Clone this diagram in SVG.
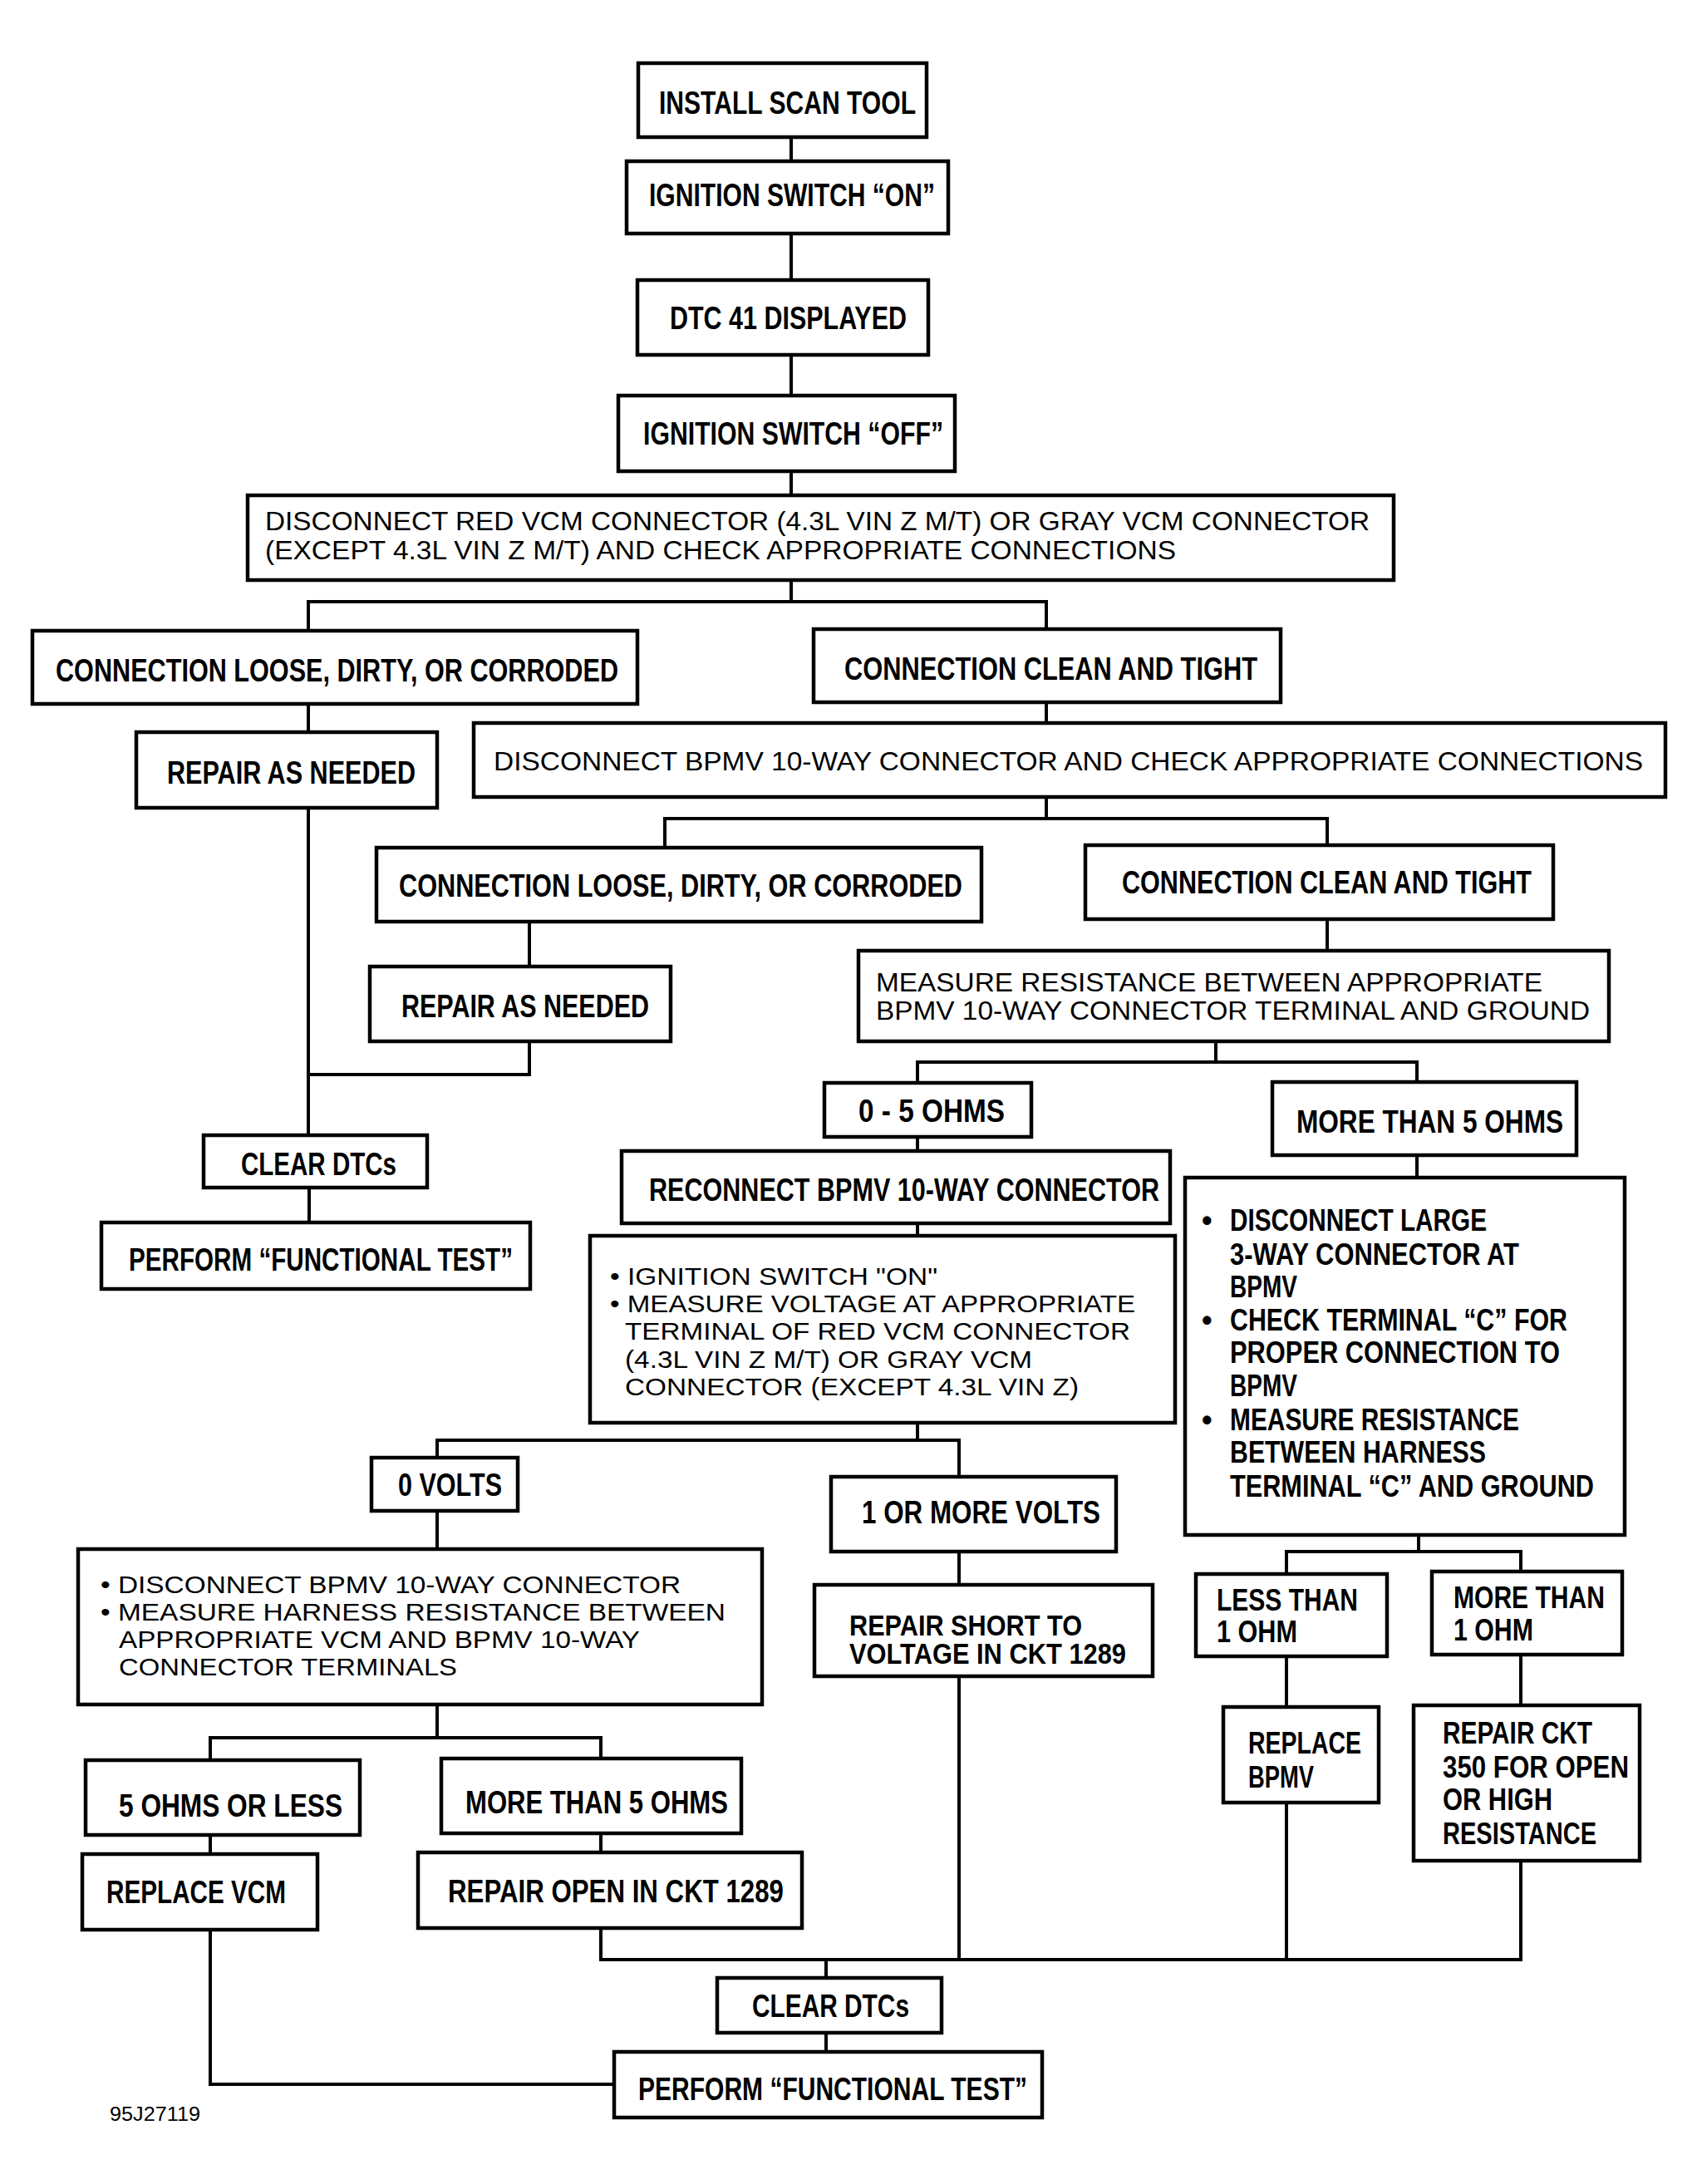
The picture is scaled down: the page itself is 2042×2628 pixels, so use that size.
<svg xmlns="http://www.w3.org/2000/svg" width="2042" height="2628" viewBox="0 0 2042 2628">
<style>
.box{fill:#fff;stroke:#000;stroke-width:4.5}
.ln{fill:none;stroke:#000;stroke-width:4;stroke-linecap:square}
text{fill:#000;font-family:"Liberation Sans",Arial,sans-serif}
.b{font-weight:bold;font-size:38px}
.b36{font-weight:bold;font-size:36px}
.b33{font-weight:bold;font-size:35px}
.r32{font-size:32px}
.r31{font-size:31px}
.r30{font-size:30px}
.r22{font-size:23px}
</style>
<rect width="2042" height="2628" fill="#fff"/>
<g id="connectors">
<path class="ln" d="M952 165V194M952 281V337M952 427V476M952 567V596"/>
<path class="ln" d="M952 698V724M371 724H1259M371 724V759M1259 724V757"/>
<path class="ln" d="M371 847V881M371 972V1366"/>
<path class="ln" d="M1259 845V870M1259 959V985M800 985H1597M800 985V1020M1597 985V1017"/>
<path class="ln" d="M637 1109V1163M637 1253V1293H371"/>
<path class="ln" d="M1597 1106V1144"/>
<path class="ln" d="M1463 1253V1278M1104 1278H1705M1104 1278V1303M1705 1278V1302"/>
<path class="ln" d="M1104 1368V1385M1104 1472V1487M1104 1712V1733M526 1733H1154M526 1733V1754M1154 1733V1777"/>
<path class="ln" d="M372 1429V1471"/>
<path class="ln" d="M526 1818V1864M526 2051V2091M253 2091H723M253 2091V2118M723 2091V2116"/>
<path class="ln" d="M253 2208V2231M253 2322V2508H739"/>
<path class="ln" d="M723 2206V2229M723 2320V2358H1830"/>
<path class="ln" d="M1154 1867V1907M1154 2017V2358"/>
<path class="ln" d="M1705 1390V1417M1707 1847V1867M1548 1867H1830M1548 1867V1894M1830 1867V1891"/>
<path class="ln" d="M1548 1993V2054M1548 2169V2358"/>
<path class="ln" d="M1830 1991V2052M1830 2239V2358"/>
<path class="ln" d="M994 2358V2380M994 2446V2469"/>
</g>
<g id="n1"><rect class="box" x="768" y="76" width="347" height="89"/><text class="b" x="793" y="137" textLength="309" lengthAdjust="spacingAndGlyphs">INSTALL SCAN TOOL</text></g>
<g id="n2"><rect class="box" x="754" y="194" width="387" height="87"/><text class="b" x="781" y="248" textLength="344" lengthAdjust="spacingAndGlyphs">IGNITION SWITCH “ON”</text></g>
<g id="n3"><rect class="box" x="767" y="337" width="350" height="90"/><text class="b" x="806" y="396" textLength="285" lengthAdjust="spacingAndGlyphs">DTC 41 DISPLAYED</text></g>
<g id="n4"><rect class="box" x="744" y="476" width="405" height="91"/><text class="b" x="774" y="535" textLength="361" lengthAdjust="spacingAndGlyphs">IGNITION SWITCH “OFF”</text></g>
<g id="n5"><rect class="box" x="298" y="596" width="1379" height="102"/>
<text class="r32" x="319" y="638" textLength="1329" lengthAdjust="spacingAndGlyphs">DISCONNECT RED VCM CONNECTOR (4.3L VIN Z M/T) OR GRAY VCM CONNECTOR</text>
<text class="r32" x="319" y="673" textLength="1096" lengthAdjust="spacingAndGlyphs">(EXCEPT 4.3L VIN Z M/T) AND CHECK APPROPRIATE CONNECTIONS</text></g>
<g id="n6"><rect class="box" x="39" y="759" width="728" height="88"/><text class="b" x="67" y="820" textLength="677" lengthAdjust="spacingAndGlyphs">CONNECTION LOOSE, DIRTY, OR CORRODED</text></g>
<g id="n7"><rect class="box" x="979" y="757" width="562" height="88"/><text class="b" x="1016" y="818" textLength="497" lengthAdjust="spacingAndGlyphs">CONNECTION CLEAN AND TIGHT</text></g>
<g id="n8"><rect class="box" x="164" y="881" width="362" height="91"/><text class="b" x="201" y="943" textLength="299" lengthAdjust="spacingAndGlyphs">REPAIR AS NEEDED</text></g>
<g id="n9"><rect class="box" x="570" y="870" width="1434" height="89"/><text class="r31" x="594" y="927" textLength="1383" lengthAdjust="spacingAndGlyphs">DISCONNECT BPMV 10-WAY CONNECTOR AND CHECK APPROPRIATE CONNECTIONS</text></g>
<g id="n10"><rect class="box" x="453" y="1020" width="728" height="89"/><text class="b" x="480" y="1079" textLength="678" lengthAdjust="spacingAndGlyphs">CONNECTION LOOSE, DIRTY, OR CORRODED</text></g>
<g id="n11"><rect class="box" x="1306" y="1017" width="563" height="89"/><text class="b" x="1350" y="1075" textLength="493" lengthAdjust="spacingAndGlyphs">CONNECTION CLEAN AND TIGHT</text></g>
<g id="n12"><rect class="box" x="445" y="1163" width="362" height="90"/><text class="b" x="483" y="1224" textLength="298" lengthAdjust="spacingAndGlyphs">REPAIR AS NEEDED</text></g>
<g id="n13"><rect class="box" x="1033" y="1144" width="903" height="109"/>
<text class="r31" x="1054" y="1193" textLength="802" lengthAdjust="spacingAndGlyphs">MEASURE RESISTANCE BETWEEN APPROPRIATE</text>
<text class="r31" x="1054" y="1227" textLength="859" lengthAdjust="spacingAndGlyphs">BPMV 10-WAY CONNECTOR TERMINAL AND GROUND</text></g>
<g id="n14"><rect class="box" x="992" y="1303" width="249" height="65"/><text class="b" x="1033" y="1350" textLength="176" lengthAdjust="spacingAndGlyphs">0 - 5 OHMS</text></g>
<g id="n15"><rect class="box" x="1531" y="1302" width="366" height="88"/><text class="b" x="1560" y="1363" textLength="321" lengthAdjust="spacingAndGlyphs">MORE THAN 5 OHMS</text></g>
<g id="n16"><rect class="box" x="245" y="1366" width="269" height="63"/><text class="b" x="290" y="1414" textLength="187" lengthAdjust="spacingAndGlyphs">CLEAR DTCs</text></g>
<g id="n17"><rect class="box" x="122" y="1471" width="516" height="80"/><text class="b" x="155" y="1529" textLength="462" lengthAdjust="spacingAndGlyphs">PERFORM “FUNCTIONAL TEST”</text></g>
<g id="n18"><rect class="box" x="748" y="1385" width="660" height="87"/><text class="b" x="781" y="1445" textLength="614" lengthAdjust="spacingAndGlyphs">RECONNECT BPMV 10-WAY CONNECTOR</text></g>
<g id="n19"><rect class="box" x="710" y="1487" width="704" height="225"/>
<text class="r30" x="734" y="1546" textLength="394" lengthAdjust="spacingAndGlyphs">• IGNITION SWITCH "ON"</text>
<text class="r30" x="734" y="1579" textLength="632" lengthAdjust="spacingAndGlyphs">• MEASURE VOLTAGE AT APPROPRIATE</text>
<text class="r30" x="752" y="1612" textLength="608" lengthAdjust="spacingAndGlyphs">TERMINAL OF RED VCM CONNECTOR</text>
<text class="r30" x="752" y="1646" textLength="490" lengthAdjust="spacingAndGlyphs">(4.3L VIN Z M/T) OR GRAY VCM</text>
<text class="r30" x="752" y="1679" textLength="546" lengthAdjust="spacingAndGlyphs">CONNECTOR (EXCEPT 4.3L VIN Z)</text></g>
<g id="n20"><rect class="box" x="447" y="1754" width="176" height="64"/><text class="b" x="479" y="1800" textLength="125" lengthAdjust="spacingAndGlyphs">0 VOLTS</text></g>
<g id="n21"><rect class="box" x="1000" y="1777" width="343" height="90"/><text class="b" x="1037" y="1833" textLength="287" lengthAdjust="spacingAndGlyphs">1 OR MORE VOLTS</text></g>
<g id="n22"><rect class="box" x="94" y="1864" width="823" height="187"/>
<text class="r30" x="121" y="1917" textLength="698" lengthAdjust="spacingAndGlyphs">• DISCONNECT BPMV 10-WAY CONNECTOR</text>
<text class="r30" x="121" y="1950" textLength="752" lengthAdjust="spacingAndGlyphs">• MEASURE HARNESS RESISTANCE BETWEEN</text>
<text class="r30" x="143" y="1983" textLength="627" lengthAdjust="spacingAndGlyphs">APPROPRIATE VCM AND BPMV 10-WAY</text>
<text class="r30" x="143" y="2016" textLength="407" lengthAdjust="spacingAndGlyphs">CONNECTOR TERMINALS</text></g>
<g id="n23"><rect class="box" x="980" y="1907" width="407" height="110"/>
<text class="b33" x="1022" y="1968" textLength="280" lengthAdjust="spacingAndGlyphs">REPAIR SHORT TO</text>
<text class="b33" x="1022" y="2002" textLength="333" lengthAdjust="spacingAndGlyphs">VOLTAGE IN CKT 1289</text></g>
<g id="n24"><rect class="box" x="1426" y="1417" width="529" height="430"/>
<text class="b36" x="1446" y="1481">•</text><text class="b36" x="1446" y="1601">•</text><text class="b36" x="1446" y="1721">•</text>
<text class="b36" x="1480" y="1481" textLength="309" lengthAdjust="spacingAndGlyphs">DISCONNECT LARGE</text>
<text class="b36" x="1480" y="1522" textLength="348" lengthAdjust="spacingAndGlyphs">3-WAY CONNECTOR AT</text>
<text class="b36" x="1480" y="1561" textLength="81" lengthAdjust="spacingAndGlyphs">BPMV</text>
<text class="b36" x="1480" y="1601" textLength="406" lengthAdjust="spacingAndGlyphs">CHECK TERMINAL “C” FOR</text>
<text class="b36" x="1480" y="1640" textLength="397" lengthAdjust="spacingAndGlyphs">PROPER CONNECTION TO</text>
<text class="b36" x="1480" y="1680" textLength="81" lengthAdjust="spacingAndGlyphs">BPMV</text>
<text class="b36" x="1480" y="1721" textLength="348" lengthAdjust="spacingAndGlyphs">MEASURE RESISTANCE</text>
<text class="b36" x="1480" y="1760" textLength="308" lengthAdjust="spacingAndGlyphs">BETWEEN HARNESS</text>
<text class="b36" x="1480" y="1801" textLength="438" lengthAdjust="spacingAndGlyphs">TERMINAL “C” AND GROUND</text></g>
<g id="n25"><rect class="box" x="1439" y="1894" width="230" height="99"/>
<text class="b36" x="1464" y="1938" textLength="170" lengthAdjust="spacingAndGlyphs">LESS THAN</text>
<text class="b36" x="1464" y="1976" textLength="97" lengthAdjust="spacingAndGlyphs">1 OHM</text></g>
<g id="n26"><rect class="box" x="1723" y="1891" width="229" height="100"/>
<text class="b36" x="1749" y="1935" textLength="182" lengthAdjust="spacingAndGlyphs">MORE THAN</text>
<text class="b36" x="1749" y="1974" textLength="96" lengthAdjust="spacingAndGlyphs">1 OHM</text></g>
<g id="n27"><rect class="box" x="1472" y="2054" width="187" height="115"/>
<text class="b36" x="1502" y="2110" textLength="136" lengthAdjust="spacingAndGlyphs">REPLACE</text>
<text class="b36" x="1502" y="2151" textLength="79" lengthAdjust="spacingAndGlyphs">BPMV</text></g>
<g id="n28"><rect class="box" x="1701" y="2052" width="272" height="187"/>
<text class="b36" x="1736" y="2098" textLength="180" lengthAdjust="spacingAndGlyphs">REPAIR CKT</text>
<text class="b36" x="1736" y="2139" textLength="224" lengthAdjust="spacingAndGlyphs">350 FOR OPEN</text>
<text class="b36" x="1736" y="2178" textLength="132" lengthAdjust="spacingAndGlyphs">OR HIGH</text>
<text class="b36" x="1736" y="2219" textLength="185" lengthAdjust="spacingAndGlyphs">RESISTANCE</text></g>
<g id="n29"><rect class="box" x="103" y="2118" width="330" height="90"/><text class="b" x="143" y="2186" textLength="269" lengthAdjust="spacingAndGlyphs">5 OHMS OR LESS</text></g>
<g id="n30"><rect class="box" x="531" y="2116" width="361" height="90"/><text class="b" x="560" y="2182" textLength="316" lengthAdjust="spacingAndGlyphs">MORE THAN 5 OHMS</text></g>
<g id="n31"><rect class="box" x="99" y="2231" width="283" height="91"/><text class="b" x="128" y="2290" textLength="216" lengthAdjust="spacingAndGlyphs">REPLACE VCM</text></g>
<g id="n32"><rect class="box" x="503" y="2229" width="462" height="91"/><text class="b" x="539" y="2289" textLength="404" lengthAdjust="spacingAndGlyphs">REPAIR OPEN IN CKT 1289</text></g>
<g id="n33"><rect class="box" x="863" y="2380" width="270" height="66"/><text class="b" x="905" y="2427" textLength="189" lengthAdjust="spacingAndGlyphs">CLEAR DTCs</text></g>
<g id="n34"><rect class="box" x="739" y="2469" width="515" height="79"/><text class="b" x="768" y="2527" textLength="468" lengthAdjust="spacingAndGlyphs">PERFORM “FUNCTIONAL TEST”</text></g>
<text class="r22" x="132" y="2552" textLength="109" lengthAdjust="spacingAndGlyphs">95J27119</text>
</svg>
